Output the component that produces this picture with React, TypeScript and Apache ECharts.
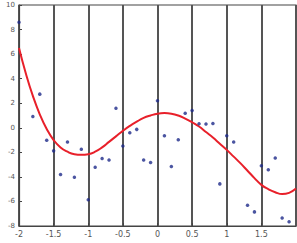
import React, { useEffect, useRef } from "react";
import * as echarts from "echarts";

const xTickLabels = ["-2", "-1.5", "-1", "-0.5", "0", "0.5", "1", "1.5", "2"];
const yTickLabels = ["-8", "-6", "-4", "-2", "0", "2", "4", "6", "8", "10"];

const pointX = [-2.0, -1.8, -1.7, -1.6, -1.5, -1.4, -1.3, -1.2, -1.1, -1.0, -0.9, -0.8, -0.7, -0.6, -0.5, -0.4, -0.3, -0.2, -0.1, 0.0, 0.1, 0.2, 0.3, 0.4, 0.5, 0.6, 0.7, 0.8, 0.9, 1.0, 1.1, 1.3, 1.4, 1.5, 1.6, 1.7, 1.8, 1.9];
const pointY = [8.6, 0.91, 2.74, -1.02, -1.88, -3.8, -1.15, -4.03, -1.75, -5.86, -3.22, -2.5, -2.63, 1.59, -1.48, -0.4, -0.13, -2.63, -2.82, 2.2, -0.65, -3.15, -0.97, 1.18, 1.4, 0.32, 0.3, 0.35, -4.57, -0.65, -1.16, -6.31, -6.85, -3.09, -3.41, -2.47, -7.34, -7.66];

const curveX = [-2.0, -1.9, -1.8, -1.7, -1.6, -1.5, -1.4, -1.3, -1.2, -1.1, -1.0, -0.9, -0.8, -0.7, -0.6, -0.5, -0.4, -0.3, -0.2, -0.1, 0.0, 0.1, 0.2, 0.3, 0.4, 0.5, 0.6, 0.7, 0.8, 0.9, 1.0, 1.1, 1.2, 1.3, 1.4, 1.5, 1.6, 1.7, 1.8, 1.9, 2.0];
const curveY = [6.5, 4.4, 2.6, 1.1, -0.1, -1.0, -1.6, -1.95, -2.15, -2.2, -2.15, -1.95, -1.6, -1.15, -0.7, -0.25, 0.15, 0.5, 0.8, 1.0, 1.15, 1.2, 1.15, 1.0, 0.75, 0.45, 0.1, -0.35, -0.8, -1.3, -1.8, -2.35, -2.9, -3.5, -4.1, -4.65, -5.0, -5.25, -5.4, -5.3, -4.95];

export default function App() {
  const ref = useRef<HTMLDivElement>(null);
  useEffect(() => {
    if (!ref.current) return;
    const chart = echarts.init(ref.current, undefined, { renderer: "svg" });
    chart.setOption({
      animation: false,
      backgroundColor: "#ffffff",
      grid: {
        left: 19,
        right: 1,
        top: 5,
        bottom: 17,
        show: true,
        borderColor: "#444",
        borderWidth: 1.2,
      },
      xAxis: {
        type: "value",
        min: -2,
        max: 2,
        interval: 0.5,
        axisLine: { show: true, onZero: false, lineStyle: { color: "#444", width: 1.2 } },
        axisTick: { show: true, inside: true, length: 3, lineStyle: { color: "#444" } },
        axisLabel: {
          color: "#555",
          fontSize: 8,
          margin: 4,
          fontFamily: "DejaVu Sans",
          showMaxLabel: false,
          formatter: (v: number) => {
            const i = Math.round((v + 2) / 0.5);
            return xTickLabels[i] ?? "";
          },
        },
        splitLine: { show: true, lineStyle: { color: "#555", width: 2 } },
      },
      yAxis: {
        type: "value",
        min: -8,
        max: 10,
        interval: 2,
        axisLine: { show: true, onZero: false, lineStyle: { color: "#444", width: 1.2 } },
        axisTick: { show: true, inside: true, length: 3, lineStyle: { color: "#444" } },
        axisLabel: {
          color: "#555",
          fontSize: 7,
          margin: 4,
          fontFamily: "DejaVu Sans",
          formatter: (v: number) => {
            const i = Math.round((v + 8) / 2);
            return yTickLabels[i] ?? "";
          },
        },
        splitLine: { show: false },
      },
      series: [
        {
          type: "line",
          data: curveX.map((x, i) => [x, curveY[i]]),
          smooth: true,
          showSymbol: false,
          lineStyle: { color: "#e8202a", width: 2 },
          z: 3,
        },
        {
          type: "scatter",
          data: pointX.map((x, i) => [x, pointY[i]]),
          symbol: "circle",
          symbolSize: 3.5,
          itemStyle: { color: "#1e2a8a" },
          z: 4,
        },
      ],
    });
    return () => chart.dispose();
  }, []);
  return <div ref={ref} style={{ width: 297, height: 243, position: "absolute", left: 0, top: 0 }} />;
}
